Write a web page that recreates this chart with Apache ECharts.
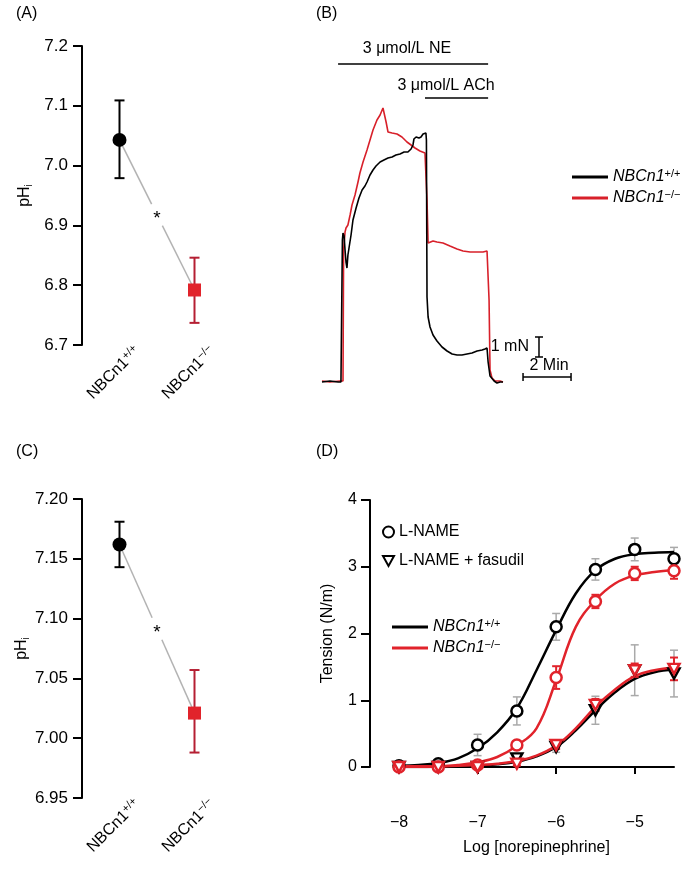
<!DOCTYPE html>
<html><head><meta charset="utf-8">
<script src="https://cdn.jsdelivr.net/npm/echarts@6/dist/echarts.min.js"></script>
<style>html,body{margin:0;padding:0;background:#fff}#c{width:699px;height:869px}</style>
</head><body><div id="c"></div>
<script>
// ---------- DATA ----------
const genotypes = ['+/+', '\u2212/\u2212'];
// Panel A (pHi)
const meanA = [7.043, 6.792];
const lowA  = [6.979, 6.737];
const highA = [7.109, 6.846];
// Panel C (pHi)
const meanC = [7.162, 7.021];
const lowC  = [7.143, 6.988];
const highC = [7.181, 7.057];
// Panel B traces: time (min), tension (mN)
const wtTraceT = [0,0.33,0.67,0.79,0.83,0.85,0.875,0.92,0.96,1.0,1.04,1.08,1.125,1.21,1.29,1.42,1.54,1.67,1.79,1.875,2.0,2.125,2.25,2.42,2.58,2.75,2.92,3.08,3.25,3.42,3.58,3.71,3.79,3.83,3.92,4.04,4.125,4.21,4.29,4.33,4.35,4.375,4.42,4.5,4.625,4.79,5.0,5.21,5.42,5.625,5.83,6.04,6.25,6.46,6.67,6.79,6.875,6.92,7.0,7.17,7.29,7.42,7.54];
const wtTraceV = [0,0.05,0,0,0.05,7.1,7.45,7.3,6.6,6.0,5.7,6.35,6.7,7.35,8.1,8.7,9.2,9.6,9.8,10.0,10.35,10.6,10.8,11.0,11.1,11.2,11.25,11.35,11.4,11.5,11.5,11.65,11.85,12.15,12.25,12.2,12.25,12.4,12.4,12.45,12.1,4.25,3.25,2.75,2.35,2.05,1.75,1.55,1.4,1.35,1.35,1.4,1.45,1.55,1.6,1.65,1.7,1.0,0.3,0.05,-0.05,0,0];
const koTraceT = [0,0.33,0.75,0.875,0.9,0.96,1.0,1.08,1.17,1.25,1.375,1.5,1.58,1.71,1.875,2.0,2.125,2.29,2.42,2.54,2.58,2.67,2.75,2.92,3.125,3.33,3.54,3.71,3.875,4.08,4.29,4.35,4.375,4.42,4.5,4.625,4.79,5.04,5.33,5.625,5.875,6.17,6.46,6.71,6.875,6.92,6.96,7.0,7.08,7.21,7.42,7.54];
const koTraceV = [0.05,0,0.05,0.05,6.6,7.5,7.7,7.85,8.35,8.85,9.35,10.0,10.45,11.0,11.6,12.1,12.6,13.1,13.35,13.7,13.6,13.0,12.5,12.45,12.4,12.25,12.0,11.85,11.7,11.55,11.45,11.4,9.1,6.95,7.0,7.05,7.0,6.95,6.8,6.65,6.55,6.5,6.5,6.5,6.55,6.5,4.1,0.6,0.2,0.05,0.05,0];
// Panel B drug bars: start, end (min), level (mN), label position
const drugLabels = ['3 \u03bcmol/L NE', '3 \u03bcmol/L ACh'];
const drugStart = [0.67, 4.29];
const drugEnd   = [6.92, 6.92];
const drugLevel = [15.9, 14.2];
const drugTextT = [3.54, 5.17];
const drugTextV = [16.65, 14.8];
// Panel D: concentration-response
const logNE = [-8, -7.5, -7, -6.5, -6, -5.5, -5, -4.5];
const wtLN   = [0.02, 0.05, 0.33, 0.84, 2.1, 2.96, 3.26, 3.12];
const wtLNe  = [0.02, 0.02, 0.16, 0.21, 0.2, 0.16, 0.17, 0.17];
const koLN   = [0, 0, 0.03, 0.33, 1.34, 2.48, 2.9, 2.94];
const koLNe  = [0.02, 0.02, 0.03, 0.05, 0.17, 0.1, 0.1, 0.12];
const wtLNF  = [0, 0, 0, 0.13, 0.3, 0.85, 1.45, 1.4];
const wtLNFe = [0.02, 0.02, 0.02, 0.03, 0.08, 0.21, 0.38, 0.35];
const koLNF  = [0, 0, 0, 0.05, 0.33, 0.93, 1.45, 1.47];
const koLNFe = [0.02, 0.02, 0.02, 0.03, 0.06, 0.09, 0.1, 0.17];
// Fitted curves
const fitX     = [-8, -7.75, -7.5, -7.25, -7, -6.75, -6.5, -6.25, -6, -5.75, -5.5, -5.25, -5, -4.75, -4.5];
const wtLNFit  = [0.02, 0.03, 0.06, 0.13, 0.28, 0.52, 0.88, 1.45, 2.05, 2.6, 2.95, 3.12, 3.19, 3.21, 3.22];
const koLNFit  = [0, 0, 0.01, 0.03, 0.07, 0.15, 0.32, 0.58, 1.3, 2.1, 2.5, 2.75, 2.87, 2.92, 2.95];
const wtLNFFit = [0, 0, 0, 0.01, 0.02, 0.04, 0.08, 0.16, 0.3, 0.55, 0.85, 1.12, 1.32, 1.42, 1.46];
const koLNFFit = [0.01, 0.01, 0.01, 0.02, 0.03, 0.05, 0.09, 0.17, 0.32, 0.58, 0.9, 1.16, 1.36, 1.45, 1.49];
const xTicksD = [-8, -7, -6, -5];

// ---------- STYLE ----------
const FF = '"Liberation Sans", Arial, Helvetica, sans-serif';
const RED = '#e1232b';
const DRED = '#b51f33';
const GRAY = '#a9a9a9';
const zip = (a, b) => a.map((v, i) => [v, b[i]]);
const genoRich = {
  n: {fontSize: 16, fontFamily: FF, color: '#000', lineHeight: 18},
  s: {fontSize: 11, fontFamily: FF, color: '#000', lineHeight: 6, verticalAlign: 'top'}
};
const legRich = {
  i: {fontSize: 16, fontFamily: FF, fontStyle: 'italic', color: '#000', lineHeight: 18},
  s: {fontSize: 11, fontFamily: FF, color: '#000', lineHeight: 6, verticalAlign: 'top'}
};
const pHName = '{a|pH}{b|i}';
const pHRich = {
  a: {fontSize: 16, fontFamily: FF, color: '#000', lineHeight: 18},
  b: {fontSize: 10, fontFamily: FF, color: '#000', lineHeight: 4, verticalAlign: 'bottom'}
};

function errBar(color, lw, cap) {
  return function (params, api) {
    const x = api.value(0);
    const top = api.coord([x, api.value(2)]);
    const bot = api.coord([x, api.value(1)]);
    const st = {stroke: color, lineWidth: lw};
    return {type: 'group', children: [
      {type: 'line', shape: {x1: top[0], y1: top[1], x2: bot[0], y2: bot[1]}, style: st},
      {type: 'line', shape: {x1: top[0] - cap, y1: top[1], x2: top[0] + cap, y2: top[1]}, style: st},
      {type: 'line', shape: {x1: bot[0] - cap, y1: bot[1], x2: bot[0] + cap, y2: bot[1]}, style: st}
    ]};
  };
}
function starLink(params, api) {
  const p0 = api.coord([api.value(0), api.value(1)]);
  const p1 = api.coord([api.value(2), api.value(3)]);
  const mx = (p0[0] + p1[0]) / 2, my = (p0[1] + p1[1]) / 2;
  const dx = p1[0] - p0[0], dy = p1[1] - p0[1];
  const L = Math.sqrt(dx * dx + dy * dy), g = 12;
  const ux = dx / L, uy = dy / L;
  const st = {stroke: '#b3b3b3', lineWidth: 1.5};
  return {type: 'group', children: [
    {type: 'line', shape: {x1: p0[0], y1: p0[1], x2: mx - ux * g, y2: my - uy * g}, style: st},
    {type: 'line', shape: {x1: mx + ux * g, y1: my + uy * g, x2: p1[0], y2: p1[1]}, style: st},
    {type: 'text', style: {text: '*', x: mx, y: my + 4, align: 'center', verticalAlign: 'middle', font: '19px ' + FF, fill: '#000'}}
  ]};
}
function pHPanel(idx, labIdx, mean, low, high, min, max, interval, dec) {
  const top = idx === 0 ? 46 : 499;
  return {
    grids: [{left: 82, width: 150, top: top, height: 299}, {left: 100, width: 150, top: top, height: 299}],
    xAxes: [
      {type: 'category', gridIndex: idx, data: genotypes,
        axisLine: {show: false}, axisTick: {show: false}, axisLabel: {show: false}},
      {type: 'category', gridIndex: labIdx, data: genotypes,
        axisLine: {show: false}, axisTick: {show: false},
        axisLabel: {rotate: 45, margin: 4, interval: 0,
          formatter: (v) => '{n|NBCn1}{s|' + v + '}', rich: genoRich}}],
    yAxes: [
      {type: 'value', gridIndex: idx, min: min, max: max, interval: interval,
        splitLine: {show: false},
        axisLine: {show: true, lineStyle: {color: '#000', width: 2}},
        axisTick: {show: true, length: 9, lineStyle: {color: '#000', width: 2}},
        axisLabel: {margin: 14, fontSize: 17, fontFamily: FF, color: '#000', formatter: (v) => v.toFixed(dec)},
        name: pHName, nameLocation: 'middle', nameGap: 48, nameTextStyle: {rich: pHRich}},
      {type: 'value', gridIndex: labIdx, min: min, max: max, show: false}],
    series: [
      {type: 'custom', xAxisIndex: idx, yAxisIndex: idx, renderItem: starLink, z: 1,
        data: [[0, mean[0], 1, mean[1]]], silent: true},
      {type: 'custom', xAxisIndex: idx, yAxisIndex: idx, renderItem: errBar('#000', 2, 5), z: 2,
        data: [[0, low[0], high[0]]]},
      {type: 'custom', xAxisIndex: idx, yAxisIndex: idx, renderItem: errBar(DRED, 2, 5), z: 2,
        data: [[1, low[1], high[1]]]},
      {type: 'scatter', xAxisIndex: idx, yAxisIndex: idx, symbol: 'circle', symbolSize: 14, z: 3,
        itemStyle: {color: '#000', opacity: 1}, data: [[0, mean[0]]]},
      {type: 'scatter', xAxisIndex: idx, yAxisIndex: idx, symbol: 'rect', symbolSize: 13, z: 3,
        itemStyle: {color: RED, opacity: 1}, data: [[1, mean[1]]]}
    ]
  };
}
// grid/axis indices: 0 A, 1 C, 2 B, 3 D, 4 A-labels, 5 C-labels
const pa = pHPanel(0, 4, meanA, lowA, highA, 6.7, 7.2, 0.1, 1);
const pc = pHPanel(1, 5, meanC, lowC, highC, 6.95, 7.2, 0.05, 2);

// Panel B
function drugRender(params, api) {
  const i = params.dataIndex;
  const a = api.coord([api.value(0), api.value(2)]);
  const b = api.coord([api.value(1), api.value(2)]);
  const t = api.coord([api.value(3), api.value(4)]);
  return {type: 'group', children: [
    {type: 'line', shape: {x1: a[0], y1: a[1], x2: b[0], y2: b[1]}, style: {stroke: '#000', lineWidth: 1.5}},
    {type: 'text', style: {text: drugLabels[i], x: t[0], y: t[1], align: 'center', verticalAlign: 'middle', font: '16px ' + FF, fill: '#000'}}
  ]};
}
const scaleBarMin = [[8.375, 10.375, 0.25]];
const scaleBarMN  = [[9.04, 1.25, 2.25]];
function hBarRender(params, api) {
  const a = api.coord([api.value(0), api.value(2)]);
  const b = api.coord([api.value(1), api.value(2)]);
  const st = {stroke: '#000', lineWidth: 1.5};
  return {type: 'group', children: [
    {type: 'line', shape: {x1: a[0], y1: a[1], x2: b[0], y2: b[1]}, style: st},
    {type: 'line', shape: {x1: a[0], y1: a[1] - 4, x2: a[0], y2: a[1] + 4}, style: st},
    {type: 'line', shape: {x1: b[0], y1: b[1] - 4, x2: b[0], y2: b[1] + 4}, style: st},
    {type: 'text', style: {text: '2 Min', x: (a[0] + b[0]) / 2 + 2, y: a[1] - 11, align: 'center', verticalAlign: 'middle', font: '16px ' + FF, fill: '#000'}}
  ]};
}
function vBarRender(params, api) {
  const a = api.coord([api.value(0), api.value(1)]);
  const b = api.coord([api.value(0), api.value(2)]);
  const st = {stroke: '#000', lineWidth: 1.5};
  return {type: 'group', children: [
    {type: 'line', shape: {x1: a[0], y1: a[1], x2: b[0], y2: b[1]}, style: st},
    {type: 'line', shape: {x1: a[0] - 4, y1: a[1], x2: a[0] + 4, y2: a[1]}, style: st},
    {type: 'line', shape: {x1: b[0] - 4, y1: b[1], x2: b[0] + 4, y2: b[1]}, style: st},
    {type: 'text', style: {text: '1 mN', x: a[0] - 10, y: (a[1] + b[1]) / 2, align: 'right', verticalAlign: 'middle', font: '16px ' + FF, fill: '#000'}}
  ]};
}
const lineIcon = 'rect';
const option = {
  animation: false,
  backgroundColor: '#fff',
  title: [
    {text: '(A)', left: 16, top: 6, padding: 0, textStyle: {fontSize: 16, fontWeight: 'normal', fontFamily: FF, color: '#000'}},
    {text: '(B)', left: 316, top: 6, padding: 0, textStyle: {fontSize: 16, fontWeight: 'normal', fontFamily: FF, color: '#000'}},
    {text: '(C)', left: 16, top: 444, padding: 0, textStyle: {fontSize: 16, fontWeight: 'normal', fontFamily: FF, color: '#000'}},
    {text: '(D)', left: 316, top: 444, padding: 0, textStyle: {fontSize: 16, fontWeight: 'normal', fontFamily: FF, color: '#000'}}
  ],
  legend: [
    {data: ['B+/+', 'B\u2212/\u2212'], orient: 'vertical', left: 572, top: 168, padding: 0,
      icon: lineIcon, itemWidth: 36, itemHeight: 3, itemGap: 4, selectedMode: false,
      formatter: (n) => '{i|NBCn}{i|1}{s|' + n.slice(1) + '}', textStyle: {rich: legRich}},
    {data: ['L-NAME', 'L-NAME + fasudil'], orient: 'vertical', left: 382, top: 524, padding: 0,
      itemWidth: 11, itemHeight: 11, itemGap: 13, selectedMode: false,
      textStyle: {fontSize: 16, fontFamily: FF, color: '#000'}},
    {data: ['D+/+', 'D\u2212/\u2212'], orient: 'vertical', left: 392, top: 618, padding: 0,
      icon: lineIcon, itemWidth: 36, itemHeight: 3, itemGap: 4, selectedMode: false,
      formatter: (n) => '{i|NBCn}{i|1}{s|' + n.slice(1) + '}', textStyle: {rich: legRich}}
  ],
  grid: [pa.grids[0], pc.grids[0],
    {left: 322, width: 253, top: 22, height: 380},
    {left: 399, width: 275, top: 500, height: 267},
    pa.grids[1], pc.grids[1]],
  xAxis: [pa.xAxes[0], pc.xAxes[0],
    {type: 'value', gridIndex: 2, min: 0, max: 10.54, show: false},
    {type: 'value', gridIndex: 3, min: -8, max: -4.5, interval: 1, offset: 36,
      splitLine: {show: false},
      axisLine: {show: true, lineStyle: {color: '#000', width: 2}},
      axisTick: {show: true, length: 7, lineStyle: {color: '#000', width: 2}, customValues: xTicksD},
      axisLabel: {margin: 12, fontSize: 16, fontFamily: FF, color: '#000', customValues: xTicksD,
        formatter: (v) => (v < 0 ? '\u2212' : '') + Math.abs(v)},
      name: 'Log [norepinephrine]', nameLocation: 'middle', nameGap: 37,
      nameTextStyle: {fontSize: 16, fontFamily: FF, color: '#000'}},
    pa.xAxes[1], pc.xAxes[1]],
  yAxis: [pa.yAxes[0], pc.yAxes[0],
    {type: 'value', gridIndex: 2, min: -1, max: 18, show: false},
    {type: 'value', gridIndex: 3, min: 0, max: 4, interval: 1, offset: 29,
      splitLine: {show: false},
      axisLine: {show: true, lineStyle: {color: '#000', width: 2}},
      axisTick: {show: true, length: 9, lineStyle: {color: '#000', width: 2}},
      axisLabel: {margin: 13, fontSize: 16, fontFamily: FF, color: '#000'},
      name: 'Tension (N/m)', nameLocation: 'middle', nameGap: 34,
      nameTextStyle: {fontSize: 16, fontFamily: FF, color: '#000'}},
    pa.yAxes[1], pc.yAxes[1]],
  series: [].concat(pa.series, pc.series, [
    // Panel B
    {name: 'B\u2212/\u2212', type: 'line', xAxisIndex: 2, yAxisIndex: 2, data: zip(koTraceT, koTraceV),
      symbol: 'none', lineStyle: {color: '#d8202a', width: 1.6}, itemStyle: {color: '#d8202a'}, z: 2},
    {name: 'B+/+', type: 'line', xAxisIndex: 2, yAxisIndex: 2, data: zip(wtTraceT, wtTraceV),
      symbol: 'none', lineStyle: {color: '#000', width: 1.6}, itemStyle: {color: '#000'}, z: 3},
    {type: 'custom', xAxisIndex: 2, yAxisIndex: 2, renderItem: drugRender,
      data: drugStart.map((s, i) => [s, drugEnd[i], drugLevel[i], drugTextT[i], drugTextV[i]])},
    {type: 'custom', xAxisIndex: 2, yAxisIndex: 2, renderItem: hBarRender, data: scaleBarMin},
    {type: 'custom', xAxisIndex: 2, yAxisIndex: 2, renderItem: vBarRender, data: scaleBarMN},
    // Panel D error bars
    {type: 'custom', xAxisIndex: 3, yAxisIndex: 3, renderItem: errBar(GRAY, 1.5, 4), z: 1,
      data: logNE.map((x, i) => [x, wtLN[i] - wtLNe[i], wtLN[i] + wtLNe[i]])},
    {type: 'custom', xAxisIndex: 3, yAxisIndex: 3, renderItem: errBar(GRAY, 1.5, 4), z: 1,
      data: logNE.map((x, i) => [x, wtLNF[i] - wtLNFe[i], wtLNF[i] + wtLNFe[i]])},
    {type: 'custom', xAxisIndex: 3, yAxisIndex: 3, renderItem: errBar(RED, 2, 4), z: 3,
      data: logNE.map((x, i) => [x, koLN[i] - koLNe[i], koLN[i] + koLNe[i]])},
    {type: 'custom', xAxisIndex: 3, yAxisIndex: 3, renderItem: errBar(RED, 2, 4), z: 3,
      data: logNE.map((x, i) => [x, koLNF[i] - koLNFe[i], koLNF[i] + koLNFe[i]])},
    // fits
    {name: 'D+/+', type: 'line', xAxisIndex: 3, yAxisIndex: 3, data: zip(fitX, wtLNFit), smooth: 0.4,
      symbol: 'none', lineStyle: {color: '#000', width: 2.5}, itemStyle: {color: '#000'}, z: 2},
    {type: 'line', xAxisIndex: 3, yAxisIndex: 3, data: zip(fitX, wtLNFFit), smooth: 0.4,
      symbol: 'none', lineStyle: {color: '#000', width: 2.5}, z: 2},
    {name: 'D\u2212/\u2212', type: 'line', xAxisIndex: 3, yAxisIndex: 3, data: zip(fitX, koLNFit), smooth: 0.4,
      symbol: 'none', lineStyle: {color: RED, width: 2.5}, itemStyle: {color: RED}, z: 4},
    {type: 'line', xAxisIndex: 3, yAxisIndex: 3, data: zip(fitX, koLNFFit), smooth: 0.4,
      symbol: 'none', lineStyle: {color: RED, width: 2.5}, z: 4},
    // markers
    {type: 'scatter', xAxisIndex: 3, yAxisIndex: 3, data: zip(logNE, wtLN), symbol: 'circle', symbolSize: 11,
      itemStyle: {color: '#fff', borderColor: '#000', borderWidth: 2.5, opacity: 1}, z: 5},
    {type: 'scatter', xAxisIndex: 3, yAxisIndex: 3, data: zip(logNE, wtLNF), symbol: 'path://M0,0L10,0L5,9Z', symbolSize: [11, 10],
      itemStyle: {color: '#fff', borderColor: '#000', borderWidth: 2.5, opacity: 1}, z: 5},
    {type: 'scatter', xAxisIndex: 3, yAxisIndex: 3, data: zip(logNE, koLN), symbol: 'circle', symbolSize: 11,
      itemStyle: {color: '#fff', borderColor: RED, borderWidth: 2.5, opacity: 1}, z: 6},
    {type: 'scatter', xAxisIndex: 3, yAxisIndex: 3, data: zip(logNE, koLNF), symbol: 'path://M0,0L10,0L5,9Z', symbolSize: [11, 10],
      itemStyle: {color: '#fff', borderColor: RED, borderWidth: 2.5, opacity: 1}, z: 6},
    // legend-only marker series
    {name: 'L-NAME', type: 'scatter', xAxisIndex: 3, yAxisIndex: 3, data: [], symbol: 'circle', symbolSize: 11,
      itemStyle: {color: '#fff', borderColor: '#000', borderWidth: 2.5, opacity: 1}},
    {name: 'L-NAME + fasudil', type: 'scatter', xAxisIndex: 3, yAxisIndex: 3, data: [], symbol: 'path://M0,0L10,0L5,9Z', symbolSize: [11, 10],
      itemStyle: {color: '#fff', borderColor: '#000', borderWidth: 2.5, opacity: 1}}
  ])
};
const chart = echarts.init(document.getElementById('c'), null, {renderer: 'canvas'});
chart.setOption(option);
</script></body></html>
